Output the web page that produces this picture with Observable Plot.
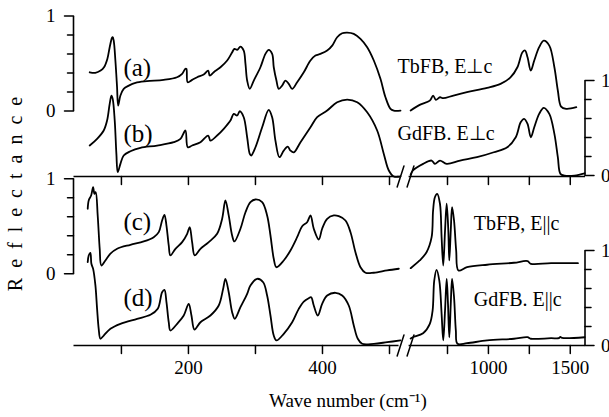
<!DOCTYPE html>
<html><head><meta charset="utf-8">
<script src="https://cdn.jsdelivr.net/npm/d3@7"></script>
<script src="https://cdn.jsdelivr.net/npm/@observablehq/plot@0.6"></script>
<style>html,body{margin:0;padding:0;background:#fff} svg{display:block}</style>
</head><body><div id="chart"></div>
<script>
// ---- Data: [wave number (cm^-1), reflectance] ----
const tbPerpLow = [[52.7,.408],[61,.402],[69,.426],[74,.461],[79,.549],[82.5,.672],[86,.771],[87,.777],[88.5,.742],[91,.532],[93.5,.251],[95.1,.058],[98.5,.163],[103.4,.234],[111,.268],[121,.297],[138,.314],[163,.328],[183,.356],[190.6,.392],[195.5,.445],[197,.444],[198.9,.303],[205.5,.328],[213,.356],[222.8,.384],[229.4,.426],[231.8,.374],[237.8,.409],[247.8,.461],[257.8,.532],[265.3,.619],[268.6,.655],[272.7,.644],[277.6,.679],[282.5,.637],[285.1,.497],[287.6,.321],[291.5,.234],[297.5,.321],[307.4,.461],[314.9,.602],[319.8,.644],[324.9,.602],[327.3,.461],[331.3,.321],[334.8,.234],[339.8,.268],[344.8,.321],[349.7,.286],[354.8,.234],[362.2,.303],[372.1,.408],[382.1,.532],[389.5,.584],[397,.602],[407,.637],[414.5,.689],[421.9,.777],[429.4,.819],[436.9,.826],[446.7,.813],[456.7,.760],[466.7,.672],[476.6,.532],[486.5,.339],[494,.145],[501.5,.023],[506.4,.005],[516.4,.005]];
const tbPerpHigh = [[525,.005],[580,.065],[642,.11],[662,.163],[679,.118],[704,.145],[724,.135],[786,.163],[869,.198],[992,.244],[1074,.286],[1136,.356],[1177,.461],[1208,.619],[1224,.637],[1239,.566],[1259,.426],[1280,.532],[1310,.672],[1338,.742],[1372,.689],[1403,.461],[1424,.216],[1444,.047],[1475,.023],[1537,.04]];
const gdPerpLow = [[52.7,.316],[63.7,.386],[73.6,.474],[78.6,.579],[82.5,.755],[85.1,.842],[87,.807],[90,.579],[92.5,.228],[94.5,.035],[98.5,.123],[103.4,.211],[113.4,.256],[128.3,.292],[153.3,.316],[178.1,.351],[188.1,.386],[195.5,.474],[199,.298],[205.5,.316],[217.9,.351],[229.4,.421],[232.8,.368],[242.8,.421],[252.7,.492],[262.7,.579],[267.6,.649],[272.7,.632],[276.6,.677],[282.5,.614],[287.6,.403],[291.5,.228],[293.6,.211],[300,.298],[310,.508],[319.8,.692],[324.9,.614],[329.8,.368],[335.8,.193],[342.2,.263],[348.2,.305],[352.2,.263],[357.2,.245],[367.2,.351],[382.1,.508],[392.1,.614],[407,.684],[421.9,.772],[436.9,.8],[451.8,.772],[466.7,.666],[481.6,.474],[491.5,.228],[499,.053],[506.4,-.01],[516.4,-.01]];
const gdPerpHigh = [[525,.01],[539,.053],[601,.123],[653,.158],[673,.123],[704,.158],[745,.123],[827,.158],[930,.193],[1033,.245],[1115,.298],[1167,.403],[1197,.561],[1218,.597],[1239,.544],[1259,.403],[1280,.508],[1310,.649],[1338,.713],[1372,.649],[1403,.439],[1424,.193],[1440,.018],[1465,0],[1526,0],[1588,.024]];
const tbParLow = [[49.7,.684],[51.2,.772],[54.8,.824],[57.8,.912],[59.7,.842],[61.6,.859],[64.6,.614],[67.6,.263],[70.1,.087],[76.1,.14],[83.6,.211],[93.6,.263],[113.4,.305],[133.3,.34],[148.2,.385],[155.7,.438],[160.7,.561],[164.2,.621],[167.2,.508],[170.6,.298],[173.1,.193],[180.6,.263],[190.6,.333],[198.1,.421],[201.9,.491],[205.5,.333],[209.4,.193],[217.9,.263],[230.3,.333],[242.8,.421],[250.3,.579],[255.2,.772],[260.1,.614],[265.2,.403],[268.6,.34],[277.6,.474],[285.1,.648],[292.5,.754],[300,.782],[310,.754],[317.4,.614],[322.4,.403],[327.3,.158],[331.3,.069],[342.2,.14],[352.2,.245],[362.2,.385],[369.7,.501],[377.1,.543],[382.1,.614],[387,.474],[394.5,.361],[399.5,.474],[407,.579],[416.9,.614],[424.3,.606],[434.3,.561],[441.8,.438],[449.2,.227],[456.7,.069],[464.2,.011],[476.6,.011],[496.5,.035],[513.9,.053]];
const tbParHigh = [[525,.059],[580,.14],[622,.227],[653,.385],[662,.666],[673,.806],[687,.842],[704,.737],[714,.385],[724,.087],[735,.456],[745,.737],[755,.456],[761,.14],[770,.456],[778,.701],[790,.561],[803,.245],[817,.035],[869,.069],[992,.095],[1156,.116],[1239,.133],[1259,.105],[1383,.112],[1547,.112]];
const gdParLow = [[49.7,.877],[51.2,.947],[53.7,.976],[55.2,.86],[57.8,.807],[61.2,.632],[63.7,.386],[66.1,.176],[68.7,.071],[73.6,.105],[83.6,.176],[98.5,.228],[123.4,.281],[143.3,.323],[154.2,.386],[160.7,.561],[164.2,.586],[167.2,.456],[170.6,.245],[173.1,.158],[183.1,.228],[193,.316],[200.4,.439],[204.5,.316],[209,.168],[217.9,.245],[232.8,.316],[245.2,.421],[251.8,.597],[255.2,.702],[260.1,.561],[265.2,.351],[269.1,.281],[277.6,.403],[287.6,.544],[292.5,.632],[302.5,.702],[311.5,.666],[317.4,.526],[322.4,.316],[327.3,.105],[331.3,.053],[342.2,.123],[354.8,.245],[364.6,.386],[372.1,.463],[379.5,.498],[383.1,.508],[387,.421],[393,.316],[399.5,.439],[407,.526],[419.4,.555],[429.4,.526],[439.2,.421],[446.7,.211],[452.7,.071],[459.2,.018],[476.6,.018],[496.5,.035],[516.4,.053]];
const gdParHigh = [[525,.074],[539,.087],[601,.129],[642,.228],[659,.368],[669,.684],[683,.797],[700,.684],[714,.333],[724,.053],[735,.368],[745,.702],[753,.439],[761,.087],[770,.439],[778,.702],[790,.508],[801,.158],[811,.018],[869,.024],[992,.053],[1156,.071],[1239,.087],[1259,.071],[1383,.077],[1430,.077],[1440,.09],[1450,.08],[1588,.087]];

// tick values and labels
const xTickValues = [100, 200, 300, 400, 500, 750, 1000, 1250, 1500];
const xTickLabels = [200, 400, 1000, 1500];
const yTickValues = [0, 0.2, 0.4, 0.6, 0.8, 1];
const yTickLabels = [0, 1];

// curve labels
const curveLetters = ["(a)", "(b)", "(c)", "(d)"];
const sampleNames = ["TbFB, E\u22A5c", "GdFB. E\u22A5c", "TbFB, E||c", "GdFB. E||c"];
const yTitle = "Reflectance";
const xTitle = "Wave number (cm\u207B\u00B9)";

// ---- layout (stacking of the four spectra) ----
const offsets = {a: 2.468, b: 1.789, c: 0.755, d: 0};
const keys = ["a", "b", "c", "d"];
const xMin = 28.5, breakLo = 520, breakHi = 524, xMax = 1590;
const midAxisY = 1.779, botAxisY = 0;

const segments = [
  {k: "a", pts: tbPerpLow}, {k: "a", pts: tbPerpHigh},
  {k: "b", pts: gdPerpLow}, {k: "b", pts: gdPerpHigh},
  {k: "c", pts: tbParLow}, {k: "c", pts: tbParHigh},
  {k: "d", pts: gdParLow}, {k: "d", pts: gdParHigh}
];
const rows = segments.flatMap((s, i) => s.pts.map(([w, r]) => ({w, y: r + offsets[s.k], seg: i})));

const yAxes = [{k: "a", side: "left"}, {k: "c", side: "left"}, {k: "b", side: "right"}, {k: "d", side: "right"}];
const yTickRows = yAxes.flatMap(a => yTickValues.map(v => ({x: a.side === "left" ? xMin : xMax, y: v + offsets[a.k], v, side: a.side})));
const isMajor = d => d.v === 0 || d.v === 1;

const labelPos = {a: [103, 2.842], b: [103, 2.137], c: [103, 1.211], d: [103, 0.421]};
const namePos = {a: [512, 2.866], b: [512, 2.158], c: [910, 1.221], d: [910, 0.421]};
const letterRows = keys.map((k, i) => ({x: labelPos[k][0], y: labelPos[k][1], text: curveLetters[i]}));
const nameRows = keys.map((k, i) => ({x: namePos[k][0], y: namePos[k][1], text: sampleNames[i]}));

const tickShape = {draw(ctx, l) { ctx.moveTo(0, 0); ctx.lineTo(0, -l); }};
const axisLines = [midAxisY, botAxisY].flatMap(y => [{y, x1: xMin, x2: 513.5}, {y, x1: 523, x2: xMax}]);
const breakMarks = [midAxisY, botAxisY].flatMap(y => [{x: 516.5, y}, {x: breakHi, y}]);

const plot = Plot.plot({
  width: 609, height: 417,
  marginLeft: 73, marginRight: 24.5, marginTop: 0, marginBottom: 40,
  x: {type: "linear", domain: [xMin, breakLo, breakHi, xMax], range: [73, 402.4, 410, 584.5], axis: null},
  y: {domain: [0, 1], range: [345, 250], axis: null},
  style: {fontFamily: "'Liberation Serif', 'Times New Roman', serif", fontSize: "19px", color: "black", background: "white"},
  marks: [
    // horizontal axis lines (with break)
    Plot.link(axisLines, {x1: "x1", x2: "x2", y1: "y", y2: "y", stroke: "black", strokeWidth: 1.6}),
    // vertical axis lines
    Plot.link(yAxes, {x1: a => a.side === "left" ? xMin : xMax, x2: a => a.side === "left" ? xMin : xMax,
      y1: a => offsets[a.k], y2: a => offsets[a.k] + 1, stroke: "black", strokeWidth: 1.6}),
    // x ticks on both axes
    Plot.vector([midAxisY, botAxisY].flatMap(y => xTickValues.map(x => ({x, y}))), {x: "x", y: "y", length: 8, rotate: 180, anchor: "start", shape: tickShape, stroke: "black", strokeWidth: 1.5}),
    // axis break marks
    Plot.vector(breakMarks, {x: "x", y: "y", length: 22, rotate: 18, anchor: "middle", shape: tickShape, stroke: "black", strokeWidth: 1.5}),
    // y ticks
    Plot.vector(yTickRows.filter(isMajor), {x: "x", y: "y", length: 9, rotate: d => d.side === "left" ? 270 : 90, anchor: "start", shape: tickShape, stroke: "black", strokeWidth: 1.5}),
    Plot.vector(yTickRows.filter(d => !isMajor(d)), {x: "x", y: "y", length: 6, rotate: d => d.side === "left" ? 270 : 90, anchor: "start", shape: tickShape, stroke: "black", strokeWidth: 1.5}),
    // y tick labels
    Plot.text(yTickRows.filter(d => d.side === "left" && yTickLabels.includes(d.v)), {x: "x", y: "y", text: d => String(d.v), textAnchor: "end", dx: -18}),
    Plot.text(yTickRows.filter(d => d.side === "right" && yTickLabels.includes(d.v)), {x: "x", y: "y", text: d => String(d.v), textAnchor: "start", dx: 16}),
    // x tick labels
    Plot.text(xTickLabels, {x: d => d, y: botAxisY, text: d => String(d), dy: 28, lineAnchor: "bottom"}),
    // x axis title
    Plot.text([xTitle], {x: 438, y: botAxisY, dy: 61, lineAnchor: "bottom", fontSize: 19}),
    // y axis title
    Plot.text([yTitle], {frameAnchor: "left", textAnchor: "middle", dx: -58, rotate: -90, fontSize: 20}),
    // spectra
    Plot.line(rows, {x: "w", y: "y", z: "seg", stroke: "black", strokeWidth: 1.8, curve: "catmull-rom"}),
    // labels
    Plot.text(letterRows, {x: "x", y: "y", text: "text", textAnchor: "start", lineAnchor: "bottom", fontSize: 25}),
    Plot.text(nameRows, {x: "x", y: "y", text: "text", textAnchor: "start", lineAnchor: "bottom", fontSize: 20})
  ]
});
d3.select(plot).selectAll("text").filter(function() { return this.textContent === yTitle; }).style("letter-spacing", "10px");
document.getElementById("chart").appendChild(plot);
</script></body></html>
